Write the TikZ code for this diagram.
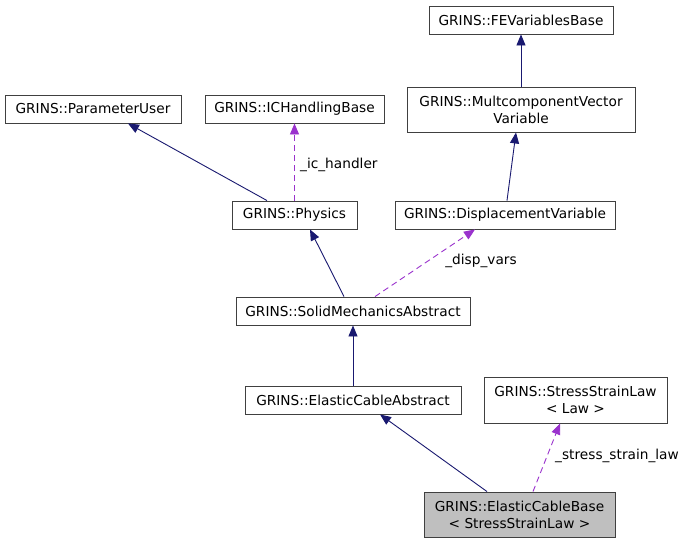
\documentclass[tikz,border=0pt]{standalone}
\usepackage{fontspec}
\setmainfont{DejaVu Sans}
\usetikzlibrary{arrows.meta}
\definecolor{inh}{HTML}{191970}
\definecolor{usage}{HTML}{9A32CD}
\definecolor{boxedge}{HTML}{404040}
\tikzset{
  cls/.style={draw=boxedge, line width=0.9pt, inner sep=0pt, align=center,
    font=\fontsize{13.7}{17}\selectfont},
  inhe/.style={draw=inh, line width=0.9pt, -{Triangle[length=11pt,width=9pt]}},
  usee/.style={draw=usage, line width=0.9pt, dash pattern=on 6pt off 4pt, -{Triangle[length=11pt,width=9pt]}},
  lbl/.style={font=\fontsize{13.7}{17}\selectfont, inner sep=0pt}
}
\begin{document}
\begin{tikzpicture}[x=1pt,y=-1pt]
\useasboundingbox (0,0) rectangle (685,544);
\fill[white] (0,0) rectangle (685,544);
% boxes
\node[cls, minimum width=176, minimum height=28] (pu) at (93,109) {GRINS::ParameterUser};
\node[cls, minimum width=179, minimum height=28] (ich) at (294.5,109) {GRINS::ICHandlingBase};
\node[cls, minimum width=184, minimum height=28] (fe) at (521,20) {GRINS::FEVariablesBase};
\node[cls, minimum width=228, minimum height=45] (mcv) at (521,109.5) {GRINS::MultcomponentVector\\Variable};
\node[cls, minimum width=125, minimum height=28] (phys) at (294.5,215) {GRINS::Physics};
\node[cls, minimum width=220, minimum height=28] (disp) at (505,215) {GRINS::DisplacementVariable};
\node[cls, minimum width=234, minimum height=28] (sma) at (353,311) {GRINS::SolidMechanicsAbstract};
\node[cls, minimum width=216, minimum height=28] (eca) at (353,400) {GRINS::ElasticCableAbstract};
\node[cls, minimum width=183, minimum height=46] (ssl) at (575.5,400) {GRINS::StressStrainLaw\\\textless{} Law \textgreater{}};
\node[cls, fill=black!25, minimum width=191, minimum height=45] (ecb) at (519.5,514.5) {GRINS::ElasticCableBase\\\textless{} StressStrainLaw \textgreater{}};
% inheritance
\draw[inhe] ([xshift=-27.5]phys.north) -- ([xshift=35]pu.south);
\draw[inhe] (mcv.north) -- (fe.south);
\draw[inhe] ([xshift=2]disp.north) -- ([xshift=-5]mcv.south);
\draw[inhe] ([xshift=-9]sma.north) -- ([xshift=15.5]phys.south);
\draw[inhe] (eca.north) -- (sma.south);
\draw[inhe] ([xshift=-32.5]ecb.north) -- ([xshift=27]eca.south);
% usage
\draw[usee] (phys.north) -- (ich.south);
\node[lbl, anchor=west] (icl) at (300,165) {\_ic\_handler};
\draw[usee] ([xshift=22]sma.north) -- ([xshift=-30]disp.south);
\node[lbl] (dvl) at (481,261) {\_disp\_vars};
\draw[usee] ([xshift=13.5]ecb.north) -- ([xshift=-15.5]ssl.south);
\node[lbl] (sslbl) at (617,456) {\_stress\_strain\_law};
\end{tikzpicture}
\end{document}
